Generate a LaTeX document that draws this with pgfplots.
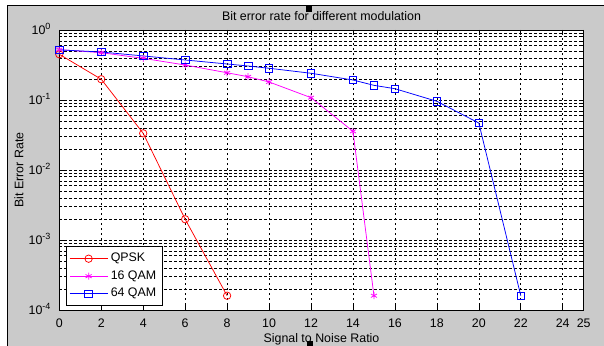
\documentclass[border=0pt]{standalone}
\usepackage{pgfplots}
\pgfplotsset{compat=1.18}
\usepackage{fontspec}
\setmainfont{Liberation Sans}
\definecolor{bggray}{RGB}{202,202,202}
\definecolor{mred}{RGB}{255,0,0}
\definecolor{mmag}{RGB}{255,0,255}
\definecolor{mblue}{RGB}{0,0,255}
\newcommand\ff{\fontsize{12.4bp}{14bp}\selectfont}
\newcommand\tp[1]{10\raisebox{5.2bp}{\fontsize{9bp}{9bp}\selectfont #1}}
\begin{document}
\begin{tikzpicture}
\useasboundingbox (0,0) rectangle (604bp,346bp);
\fill[white] (0,0) rectangle (604bp,346bp);
\fill[bggray] (7.3bp,0) rectangle (604bp,340.3bp);
\draw[black,line width=1.5bp] (7.3bp,0) -- (7.3bp,340.3bp) -- (604bp,340.3bp);
\fill[black] (306bp,334bp) rectangle (312.3bp,341bp);
\fill[black] (306.7bp,0) rectangle (313.3bp,5.3bp);
\begin{axis}[
  at={(59.3bp,36bp)}, anchor=south west,
  scale only axis, width=524.4bp, height=280bp,
  xmin=0, xmax=25, ymode=log, ymin=1e-4, ymax=1,
  axis background/.style={fill=white},
  axis line style={black, line width=0.75bp},
  xtick={0,2,4,6,8,10,12,14,16,18,20,22,24,25},
  xticklabels={0,2,4,6,8,10,12,14,16,18,20,22,24,25},
  ytick={1e-4,1e-3,1e-2,1e-1,1},
  yticklabels={\tp{-4},\tp{-3},\tp{-2},\tp{-1},\tp{0}},
  xticklabel style={font=\ff, anchor=base, inner sep=0pt, yshift=-17.3bp},
  yticklabel style={font=\ff, anchor=base east, inner sep=0pt, xshift=-8.6bp, yshift=-4.4bp},
  tick align=inside, major tick length=5bp, minor tick length=3bp,
  tick style={black, line width=0.6bp},
  xmajorgrids, ymajorgrids, yminorgrids,
  major grid style={black, line width=0.6bp, dash pattern=on 2.5bp off 2.5bp},
  minor grid style={black, line width=0.6bp, dash pattern=on 2.5bp off 2.5bp},
  legend style={at={(0.0122,0.0143)}, anchor=south west, draw=black, line width=0.6bp,
    fill=white, inner sep=3.25bp, row sep=0pt,
    nodes={font=\ff, inner sep=2.75bp, text height=9bp, text depth=3bp}},
  legend cell align=left,
  legend image code/.code={\draw[mark repeat=2,mark phase=2] plot coordinates {(0bp,0bp) (19bp,0bp) (38bp,0bp)};},
]
\addplot[mred, line width=0.75bp, mark=o, mark size=3.7bp, mark options={solid}] coordinates {
(0,0.45) (2,0.198) (4,0.0334) (6,0.00198) (8,0.00016)};
\addlegendentry{QPSK}
\addplot[mmag, line width=0.75bp, mark=asterisk, mark size=3.5bp] coordinates {
(0,0.525) (2,0.474) (4,0.394) (6,0.316) (8,0.245) (9,0.215) (10,0.181) (12,0.108) (14,0.0357) (15,0.00016)};
\addlegendentry{16 QAM}
\addplot[mblue, line width=0.75bp, mark=square, mark size=3.8bp] coordinates {
(0,0.52) (2,0.485) (4,0.426) (6,0.373) (8,0.327) (9,0.306) (10,0.284) (12,0.241) (14,0.193) (15,0.162) (16,0.145) (18,0.0958) (20,0.0469) (22,0.00016)};
\addlegendentry{64 QAM}
\end{axis}
\node[anchor=base, inner sep=0pt, font=\ff] at (321.5bp,325.3bp) {Bit error rate for different modulation};
\node[anchor=base, inner sep=0pt, font=\ff] at (321.5bp,3.5bp) {Signal to Noise Ratio};
\node[rotate=90, anchor=center, inner sep=0pt, font=\ff] at (19bp,176bp) {Bit Error Rate};
\end{tikzpicture}
\end{document}
